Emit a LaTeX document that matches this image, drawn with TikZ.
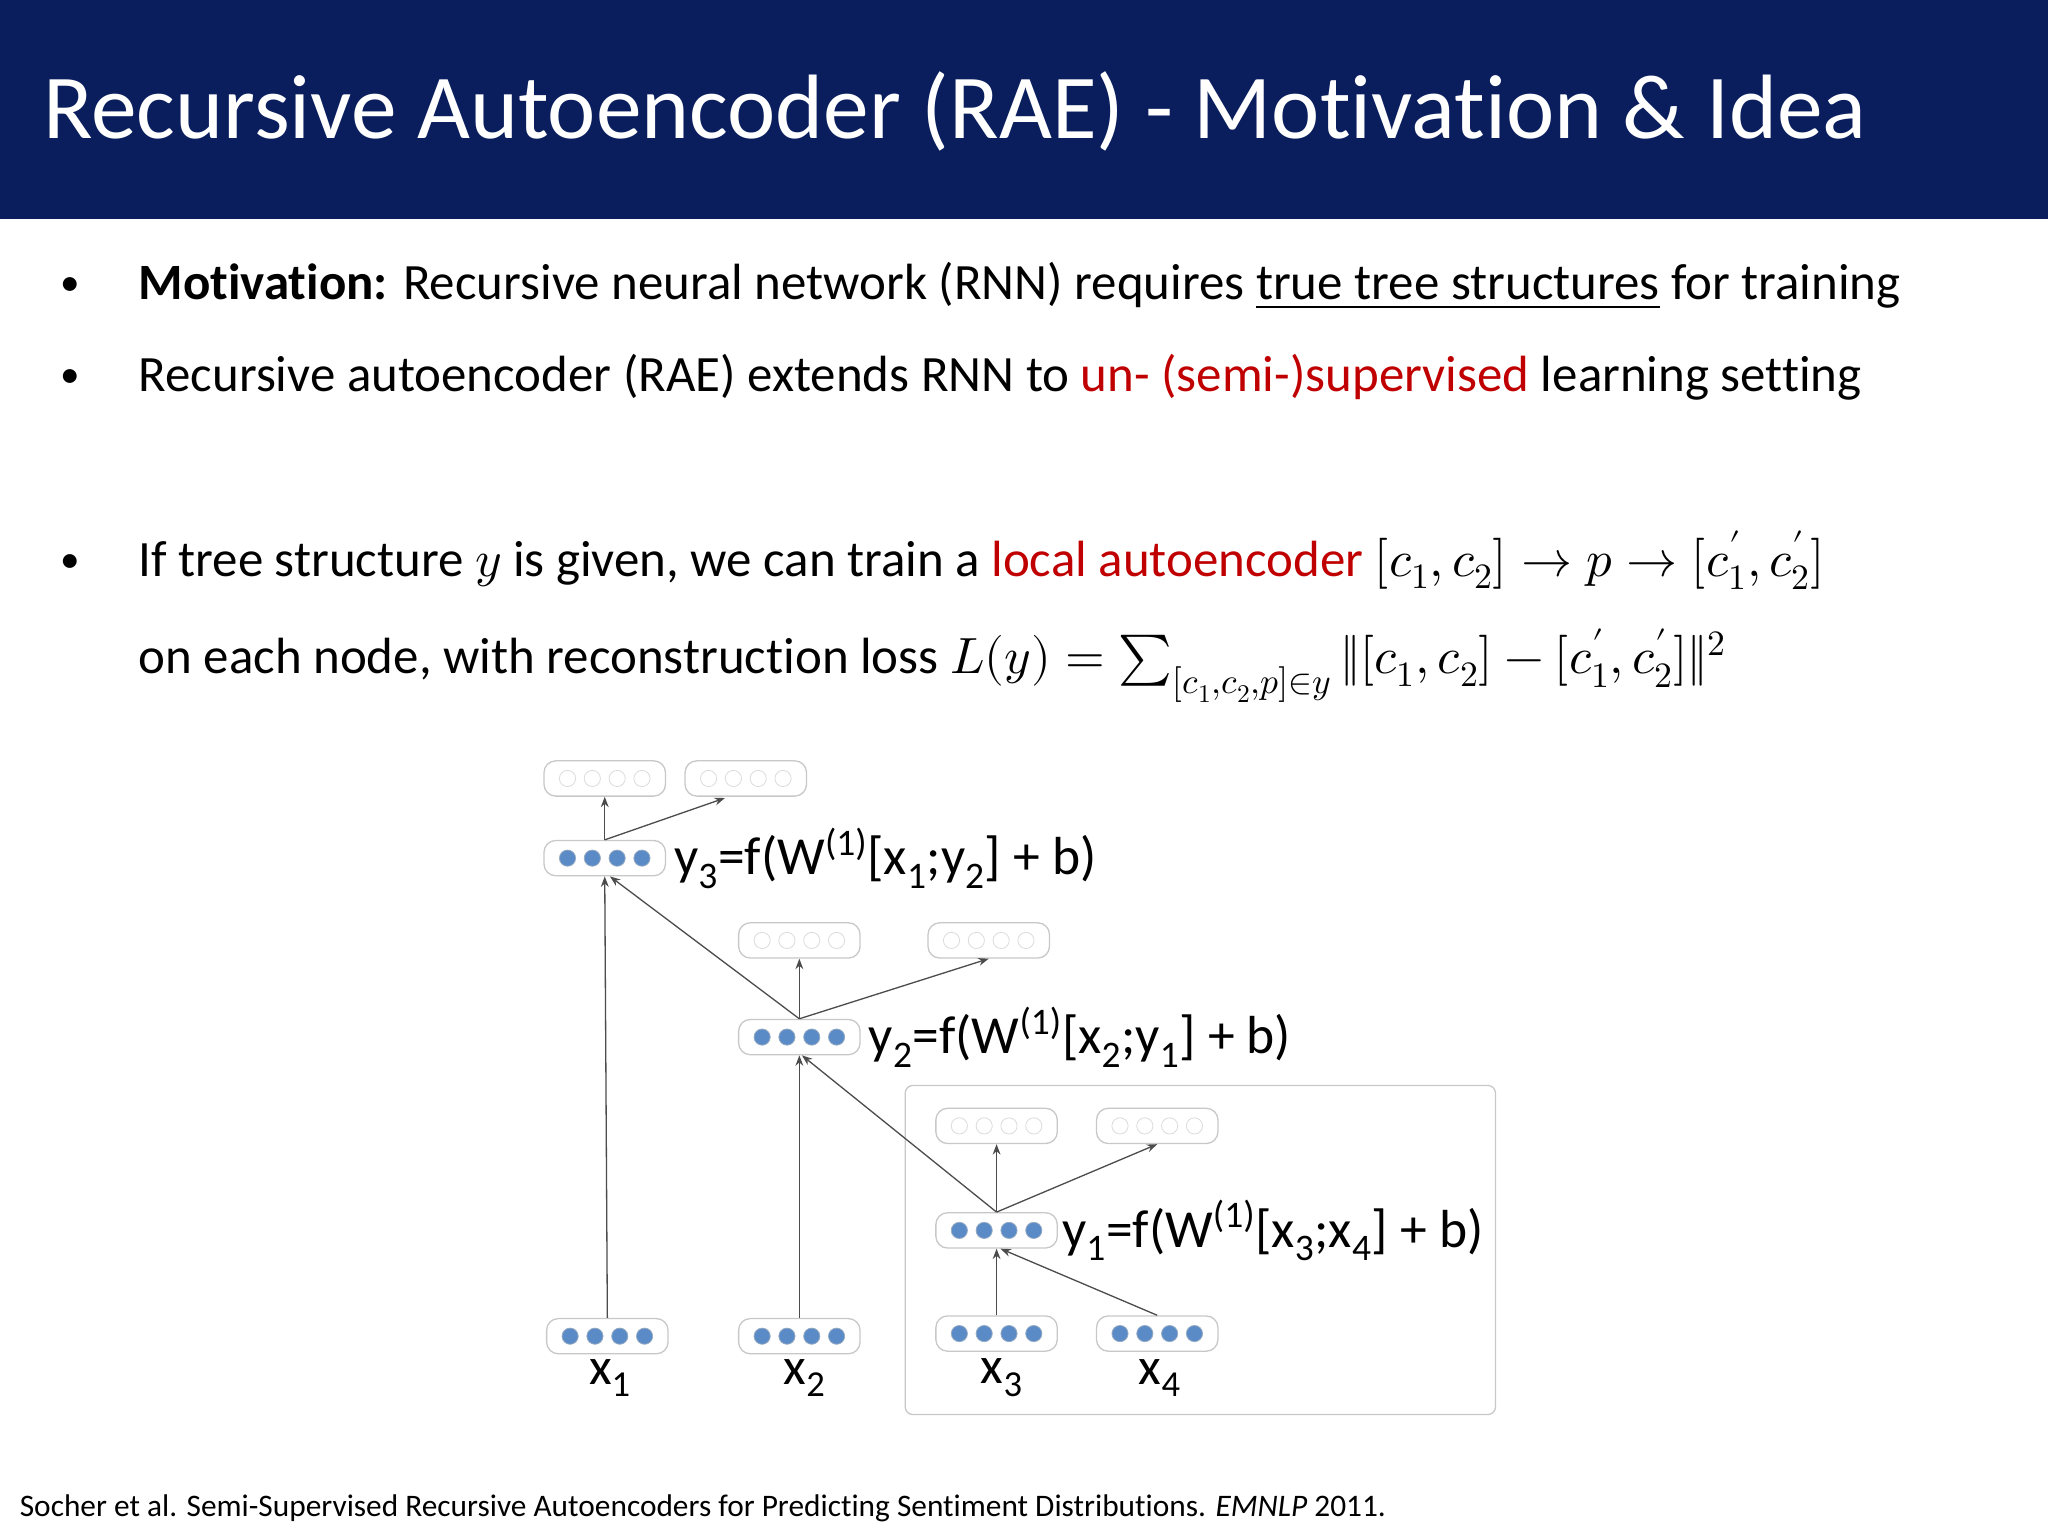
\documentclass[tikz,border=0pt]{standalone}
\usepackage{unicode-math}
\setmainfont{Carlito}[Ligatures=NoCommon]
\setsansfont{Carlito}[Ligatures=NoCommon]
\setmathfont{Latin Modern Math}
\usetikzlibrary{arrows.meta,calc}
\definecolor{navy}{HTML}{0A1E5E}
\definecolor{dotblue}{HTML}{5B8BC6}
\definecolor{redt}{HTML}{C00000}
\definecolor{boxgray}{HTML}{C8C8C8}
\newcommand{\vecnode}[4]{%
  \node[vbox] (#1) at (#2,#3) {};
  \foreach \k in {-1.5,-0.5,0.5,1.5}{
    \fill[#4, draw=#4!60!gray!70, line width=0.6pt] ($(#1.center)+(\k*19,0)$) circle (6.2);}
}
\tikzset{
  vbox/.style={draw=boxgray, line width=1pt, rounded corners=9pt, minimum width=93pt, minimum height=27pt, inner sep=0pt, fill=white},
  arr/.style={-{Stealth[length=8pt,width=6pt]}, draw=black!70, line width=1pt},
  lbl/.style={font=\fontsize{41}{44}\selectfont, anchor=west, inner sep=0pt},
  xl/.style={font=\fontsize{40}{42}\selectfont, inner sep=0pt},
  body/.style={font=\fontsize{39}{44}\selectfont, anchor=base west, inner sep=0pt},
  bul/.style={font=\fontsize{30}{34}\selectfont, anchor=base west, inner sep=0pt},
}
\begin{document}
\begin{tikzpicture}[x=1pt,y=-1pt]
\useasboundingbox (0,0) rectangle (1568,1176);
\fill[white] (0,0) rectangle (1568,1176);
\fill[navy] (0,0) rectangle (1568,168);
\node[anchor=base west, inner sep=0pt, text=white, font=\fontsize{70}{76}\selectfont] (title) at (33,106) {Recursive Autoencoder (RAE) - Motivation \& Idea};

\node[bul] (b1) at (46,226) {•};
\node[body] (t1) at (106,229) {\textbf{Motivation:} Recursive neural network (RNN) requires \underline{true tree structures} for training};
\node[bul] (b2) at (46,297) {•};
\node[body] (t2) at (106,300) {Recursive autoencoder (RAE) extends RNN to \textcolor{redt}{un- (semi-)supervised} learning setting};
\node[bul] (b3) at (46,438) {•};
\node[body] (t3) at (106,441) {If tree structure $y$ is given, we can train a \textcolor{redt}{local autoencoder} $[c_1,c_2]\rightarrow p\rightarrow[c'_1,c'_2]$};
\node[body] (t4) at (106,516) {on each node, with reconstruction loss $L(y)=\sum_{[c_1,c_2,p]\in y}\|[c_1,c_2]-[c'_1,c'_2]\|^2$};

\node[anchor=base west, inner sep=0pt, font=\fontsize{24}{28}\selectfont] (foot) at (15,1161) {Socher et al. Semi-Supervised Recursive Autoencoders for Predicting Sentiment Distributions. \textit{EMNLP} 2011.};

\draw[boxgray, line width=1pt, rounded corners=6pt] (693,831) rectangle (1145,1083);

\vecnode{o31}{463}{596}{white}
\vecnode{o32}{571}{596}{white}
\vecnode{o21}{612}{720}{white}
\vecnode{o22}{757}{720}{white}
\vecnode{o11}{763}{862}{white}
\vecnode{o12}{886}{862}{white}
\vecnode{y3}{463}{657}{dotblue}
\vecnode{y2}{612}{794}{dotblue}
\vecnode{y1}{763}{942}{dotblue}
\vecnode{x1}{465}{1023}{dotblue}
\vecnode{x2}{612}{1023}{dotblue}
\vecnode{x3}{763}{1021}{dotblue}
\vecnode{x4}{886}{1021}{dotblue}

\node[lbl] (l3) at (516,657) {y\textsubscript{3}=f(W\textsuperscript{(1)}[x\textsubscript{1};y\textsubscript{2}] + b)};
\node[lbl] (l2) at (665,794) {y\textsubscript{2}=f(W\textsuperscript{(1)}[x\textsubscript{2};y\textsubscript{1}] + b)};
\node[lbl] (l1) at (813,942) {y\textsubscript{1}=f(W\textsuperscript{(1)}[x\textsubscript{3};x\textsubscript{4}] + b)};

\node[xl] (n1) at (467,1055) {x\textsubscript{1}};
\node[xl] (n2) at (616,1055) {x\textsubscript{2}};
\node[xl] (n3) at (767,1055) {x\textsubscript{3}};
\node[xl] (n4) at (888,1055) {x\textsubscript{4}};

\draw[arr] (x1.north) -- (y3.south);
\draw[arr] (y2.north) -- ($(y3.south)+(4,0)$);
\draw[arr] (x2.north) -- (y2.south);
\draw[arr] (y1.north) -- ($(y2.south)+(2,0)$);
\draw[arr] (x3.north) -- (y1.south);
\draw[arr] (x4.north) -- ($(y1.south)+(3,0)$);
\draw[arr] (y3.north) -- (o31.south);
\draw[arr] (y3.north) -- ($(o32.south)+(-16,1)$);
\draw[arr] (y2.north) -- (o21.south);
\draw[arr] (y2.north) -- (o22.south);
\draw[arr] (y1.north) -- (o11.south);
\draw[arr] (y1.north) -- (o12.south);
\end{tikzpicture}
\end{document}
